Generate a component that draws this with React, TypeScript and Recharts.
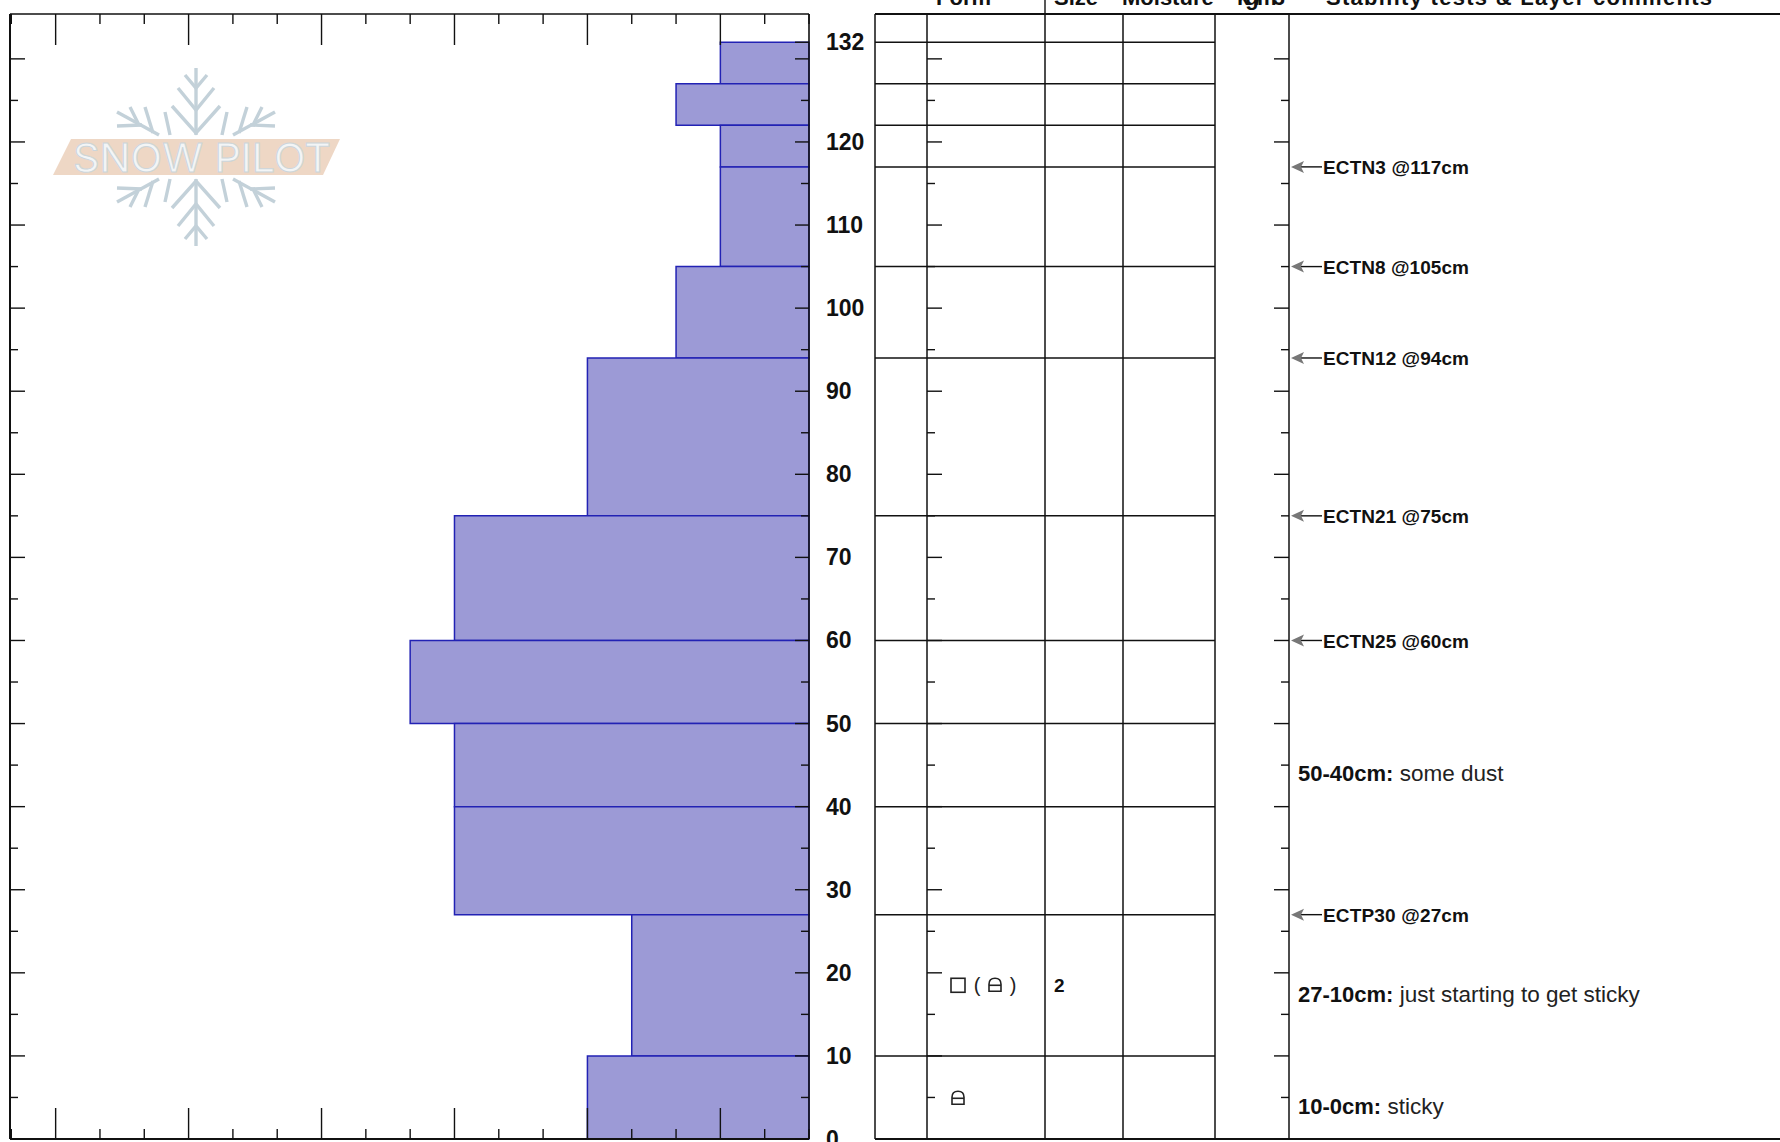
import React from 'react'
import { ScatterChart, Scatter, XAxis, YAxis, ReferenceArea, ReferenceLine, ReferenceDot } from 'recharts'

// snow layers, cm above ground, top to bottom
const layerTop = [132, 127, 122, 117, 105, 94, 75, 60, 50, 40, 27, 10]
const layerBottom = [127, 122, 117, 105, 94, 75, 60, 50, 40, 27, 10, 0]
const layerHardness = [2, 3, 2, 2, 3, 5, 8, 9, 8, 8, 4, 5]

const hardnessTicks = [0, 1, 2, 3, 4, 5, 6, 7, 8, 9, 10, 11, 12, 13, 14, 15, 16, 17, 18]
const hardnessMajor = [2, 5, 8, 11, 14, 17]
const depthTicks = [0, 5, 10, 15, 20, 25, 30, 35, 40, 45, 50, 55, 60, 65, 70, 75, 80, 85, 90, 95, 100, 105, 110, 115, 120, 125, 130]
const depthTicksWithTop = [...depthTicks, 132]
const depthLabels = [0, 10, 20, 30, 40, 50, 60, 70, 80, 90, 100, 110, 120, 132]

const testNames = ['ECTN3 @117cm', 'ECTN8 @105cm', 'ECTN12 @94cm', 'ECTN21 @75cm', 'ECTN25 @60cm', 'ECTP30 @27cm']
const testDepths = [117, 105, 94, 75, 60, 27]

const commentRanges = ['50-40cm:', '27-10cm:', '10-0cm:']
const commentTexts = ['some dust', 'just starting to get sticky', 'sticky']
const commentDepths = [44, 17.5, 4]

const DEPTH_MAX = 135.4
const HARD_MAX = 18.03
const TABLE_MAX = 905
const tableColumns = [0, 52, 170, 248, 340, 414]
const LAYER_END = 340
const FORM_COL = 52
const TEST_COL = 414
const TEXT_COL = 423

const FONT = '"Liberation Sans", Arial, sans-serif'
const LINE = '#111'

const layerPoints = layerTop.map((top, i) => ({ x: layerHardness[i], y: top }))

const HardTick = (side: 'top' | 'bottom') => (p: any) => {
  const len = hardnessMajor.includes(p.payload.value) ? 31 : 10
  const y2 = side === 'top' ? p.y + len : p.y - len
  return <line x1={p.x} y1={p.y} x2={p.x} y2={y2} stroke={LINE} strokeWidth={1.4} />
}

const LeftDepthTick = (p: any) => {
  const len = p.payload.value % 10 === 0 ? 15 : 8
  return <line x1={p.x} y1={p.y} x2={p.x + len} y2={p.y} stroke={LINE} strokeWidth={1.4} />
}

const RightDepthTick = (p: any) => {
  const v = p.payload.value
  const len = v % 10 === 0 || v === 132 ? 14 : 8
  return (
    <g>
      <line x1={p.x} y1={p.y} x2={p.x - len} y2={p.y} stroke={LINE} strokeWidth={1.4} />
      {depthLabels.includes(v) && (
        <text x={p.x + 17} y={p.y + 8} fontFamily={FONT} fontWeight="bold" fontSize={23} fill="#111">{v}</text>
      )}
    </g>
  )
}

const TestLabel = (name: string) => (p: any) => (
  <g>
    <line x1={p.cx + 8} y1={p.cy} x2={p.cx + 33} y2={p.cy} stroke={LINE} strokeWidth={1.4} />
    <polygon points={`${p.cx + 2},${p.cy} ${p.cx + 15},${p.cy - 6} ${p.cx + 12},${p.cy} ${p.cx + 15},${p.cy + 6}`} fill="#777" />
    <text x={p.cx + 34} y={p.cy + 7.5} fontFamily={FONT} fontWeight="bold" fontSize={19} fill="#111" textLength={146}>{name}</text>
  </g>
)

const Comment = (range: string, text: string) => (p: any) => (
  <text x={p.cx} y={p.cy + 8} fontFamily={FONT} fontSize={22.5} fill="#222">
    <tspan fontWeight="bold" fontSize={22} fill="#111">{range}</tspan>
    <tspan> {text}</tspan>
  </text>
)

// the rounded-facet grain symbol
const facet = (x: number, y: number) => (
  <g fill="none" stroke="#222" strokeWidth={1.6}>
    <path d={`M${x - 6} ${y + 6} V${y - 1} Q${x - 6} ${y - 7} ${x} ${y - 7} Q${x + 6} ${y - 7} ${x + 6} ${y - 1} V${y + 6} Z`} />
    <line x1={x - 6} y1={y} x2={x + 6} y2={y} />
  </g>
)

const FormMixed = (p: any) => (
  <g>
    <rect x={p.cx - 7} y={p.cy - 7} width={14} height={14} fill="none" stroke="#222" strokeWidth={1.6} />
    <text x={p.cx + 19} y={p.cy + 7} fontFamily={FONT} fontSize={20} fill="#222" textAnchor="middle">(</text>
    {facet(p.cx + 37, p.cy)}
    <text x={p.cx + 55} y={p.cy + 7} fontFamily={FONT} fontSize={20} fill="#222" textAnchor="middle">)</text>
  </g>
)

const FormFacet = (p: any) => facet(p.cx, p.cy)

const SizeLabel = (p: any) => (
  <text x={p.cx} y={p.cy + 7} fontFamily={FONT} fontWeight="bold" fontSize={19} fill="#111">2</text>
)

function LeftChart() {
  return (
    <div style={{ position: 'absolute', left: 0, top: 0 }}>
      <ScatterChart width={880} height={1142} margin={{ top: 13, right: 70, bottom: 2, left: 9 }}>
        {layerTop.map((top, i) => (
          <ReferenceArea key={top} xAxisId="bottom" yAxisId="left" x1={0} x2={layerHardness[i]} y1={layerBottom[i]} y2={top} fill="#9c9ad6" fillOpacity={1} stroke="#2222b4" strokeWidth={1.5} />
        ))}
        <XAxis xAxisId="top" orientation="top" type="number" dataKey="x" domain={[0, HARD_MAX]} allowDataOverflow reversed ticks={hardnessTicks} interval={0} height={1} tickSize={0} tickMargin={0} tickLine={false} axisLine={{ stroke: LINE, strokeWidth: 1.6 }} tick={HardTick('top')} />
        <XAxis xAxisId="bottom" orientation="bottom" type="number" dataKey="x" domain={[0, HARD_MAX]} allowDataOverflow reversed ticks={hardnessTicks} interval={0} height={1} tickSize={0} tickMargin={0} tickLine={false} axisLine={{ stroke: LINE, strokeWidth: 2 }} tick={HardTick('bottom')} />
        <YAxis yAxisId="left" orientation="left" type="number" dataKey="y" domain={[0, DEPTH_MAX]} allowDataOverflow ticks={depthTicks} interval={0} width={1} tickSize={0} tickMargin={0} tickLine={false} axisLine={{ stroke: LINE, strokeWidth: 2 }} tick={LeftDepthTick} />
        <YAxis yAxisId="right" orientation="right" type="number" dataKey="y" domain={[0, DEPTH_MAX]} allowDataOverflow ticks={depthTicksWithTop} interval={0} width={1} tickSize={0} tickMargin={0} tickLine={false} axisLine={{ stroke: LINE, strokeWidth: 1.6 }} tick={RightDepthTick} />
        <Scatter data={layerPoints} xAxisId="bottom" yAxisId="left" shape={() => <g />} isAnimationActive={false} />
      </ScatterChart>
    </div>
  )
}

function TableChart() {
  return (
    <div style={{ position: 'absolute', left: 860, top: 0 }}>
      <ScatterChart width={920} height={1142} margin={{ top: 14, right: 0, bottom: 3, left: 15 }}>
        <XAxis type="number" dataKey="x" domain={[0, TABLE_MAX]} allowDataOverflow hide />
        <YAxis type="number" dataKey="y" domain={[0, DEPTH_MAX]} allowDataOverflow hide />
        {tableColumns.map((c) => (
          <ReferenceLine key={c} x={c} stroke={LINE} strokeWidth={1.5} />
        ))}
        {layerTop.map((v) => (
          <ReferenceLine key={v} segment={[{ x: 0, y: v }, { x: LAYER_END, y: v }]} stroke={LINE} strokeWidth={1.5} />
        ))}
        <ReferenceLine y={DEPTH_MAX} stroke={LINE} strokeWidth={2} />
        <ReferenceLine y={0} stroke={LINE} strokeWidth={2} />
        {depthTicks.map((v) => {
          const len = v % 10 === 0 ? 15 : 8
          return (
            <React.Fragment key={v}>
              <ReferenceLine segment={[{ x: FORM_COL, y: v }, { x: FORM_COL + len, y: v }]} stroke={LINE} strokeWidth={1.4} />
              <ReferenceLine segment={[{ x: TEST_COL - len, y: v }, { x: TEST_COL, y: v }]} stroke={LINE} strokeWidth={1.4} />
            </React.Fragment>
          )
        })}
        {testNames.map((n, i) => (
          <ReferenceDot key={n} x={TEST_COL} y={testDepths[i]} r={0} shape={TestLabel(n)} />
        ))}
        {commentRanges.map((r, i) => (
          <ReferenceDot key={r} x={TEXT_COL} y={commentDepths[i]} r={0} shape={Comment(r, commentTexts[i])} />
        ))}
        <ReferenceDot x={83} y={18.5} r={0} shape={FormMixed} />
        <ReferenceDot x={83} y={4.9} r={0} shape={FormFacet} />
        <ReferenceDot x={179} y={18.5} r={0} shape={SizeLabel} />
        <Scatter data={layerPoints.map((p) => ({ x: LAYER_END, y: p.y }))} shape={() => <g />} isAnimationActive={false} />
      </ScatterChart>
    </div>
  )
}

function Headers() {
  const style = { fontFamily: FONT, fontWeight: 'bold', fontSize: 22, fill: '#111' }
  return (
    <svg width={1780} height={20} style={{ position: 'absolute', left: 0, top: 0, pointerEvents: 'none' }}>
      <text x={936} y={5} {...style}>Form</text>
      <text x={1054} y={5} {...style}>Size</text>
      <text x={1122} y={5} {...style}>Moisture</text>
      <text x={1237} y={5} {...style} textLength={48}>kg/m3</text>
      <text x={1326} y={5} {...style} textLength={386}>Stability tests &amp; Layer comments</text>
      <line x1={1045} y1={0} x2={1045} y2={15} stroke={LINE} strokeWidth={1.4} />
    </svg>
  )
}

function Logo() {
  const arm = (
    <g>
      <line x1={196} y1={135} x2={196} y2={68} />
      <path d="M172 106 L196 133 L220 106" />
      <path d="M178 88 L196 110 L214 88" />
      <path d="M185 75 L196 88 L207 75" />
      <line x1={117} y1={112} x2={159} y2={135} />
      <line x1={130} y1={107} x2={138} y2={123} />
      <line x1={145} y1={107} x2={153} y2={133} />
      <line x1={117} y1={126} x2={142} y2={125} />
      <line x1={165} y1={112} x2={170} y2={135} />
      <line x1={275} y1={112} x2={233} y2={135} />
      <line x1={262} y1={107} x2={254} y2={123} />
      <line x1={247} y1={107} x2={239} y2={133} />
      <line x1={275} y1={126} x2={250} y2={125} />
      <line x1={227} y1={112} x2={222} y2={135} />
    </g>
  )
  return (
    <svg width={400} height={260} style={{ position: 'absolute', left: 0, top: 0, pointerEvents: 'none' }}>
      <g stroke="#c3d1d9" strokeWidth={3.4} fill="none">
        {arm}
        <g transform="translate(0 314) scale(1 -1)">{arm}</g>
      </g>
      <polygon points="71,139 340,139 323,175 53,175" fill="#eed7c5" />
      <text x={73} y={172} fontFamily="Inter, sans-serif" fontSize={40} fill="#f3f5f6" stroke="#ccd5da" strokeWidth={1} textLength={258} lengthAdjust="spacingAndGlyphs">SNOW PILOT</text>
    </svg>
  )
}

export default function App() {
  return (
    <div style={{ position: 'absolute', left: 0, top: 0, width: 1780, height: 1142, background: '#fff', overflow: 'hidden' }}>
      <LeftChart />
      <TableChart />
      <Logo />
      <Headers />
    </div>
  )
}
